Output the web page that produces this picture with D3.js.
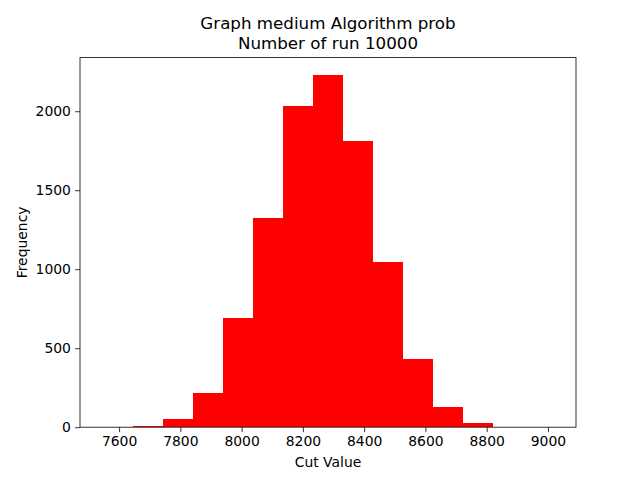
<!DOCTYPE html>
<html>
<head>
<meta charset="utf-8">
<script src="https://cdn.jsdelivr.net/npm/d3@7"></script>
<style>
  body { margin: 0; background: #fff; }
  text { font-family: "DejaVu Sans", sans-serif; fill: #000; }
</style>
</head>
<body>
<div class="histogram"></div>
<script>
'use strict';

// bin edges (cut value) and counts
const binStart = [7546, 7644, 7742, 7840, 7939, 8037, 8135, 8233, 8331, 8429, 8527, 8625, 8723, 8821, 8919];
const binEnd   = [7644, 7742, 7840, 7939, 8037, 8135, 8233, 8331, 8429, 8527, 8625, 8723, 8821, 8919, 9018];
const counts   = [1, 8, 53, 218, 689, 1322, 2033, 2228, 1811, 1044, 433, 131, 28, 0, 1];
const xTicks = [7600, 7800, 8000, 8200, 8400, 8600, 8800, 9000];
const yTicks = [0, 500, 1000, 1500, 2000];
const titleLines = ["Graph medium Algorithm prob", "Number of run 10000"];

(function() {
    const W = 640, H = 480;
    const margin = {top: 57.6, right: 64, bottom: 52.8, left: 80};
    const width = W - margin.left - margin.right,
          height = H - margin.top - margin.bottom;

    const svg = d3.select('.histogram').append('svg')
        .attr('width', W).attr('height', H);

    const g = svg.append('g')
        .attr('transform', 'translate(' + margin.left + ',' + margin.top + ')');

    // matplotlib-style 5% padding around the data
    const lo = d3.min(binStart), hi = d3.max(binEnd);
    const pad = (hi - lo) * 0.05;
    const x = d3.scaleLinear().domain([lo - pad, hi + pad]).range([0, width]);
    const y = d3.scaleLinear().domain([0, d3.max(counts) * 1.05]).range([height, 0]);

    const bins = counts.map((c, i) => ({x0: binStart[i], x1: binEnd[i], n: c}));

    // crispEdges so neighbouring bars don't show seams
    g.selectAll('rect.bar')
        .data(bins)
        .enter()
        .append('rect')
            .attr('class', 'bar')
            .attr('x', d => x(d.x0))
            .attr('y', d => y(d.n))
            .attr('width', d => x(d.x1) - x(d.x0))
            .attr('height', d => height - y(d.n))
            .attr('shape-rendering', 'crispEdges')
            .style('fill', '#ff0000');

    const xAxis = g.append('g')
        .attr('transform', 'translate(0,' + height + ')')
        .call(d3.axisBottom(x).tickValues(xTicks).tickSize(4.9).tickPadding(4.2).tickFormat(d3.format('d')));
    const yAxis = g.append('g')
        .call(d3.axisLeft(y).tickValues(yTicks).tickSize(4.9).tickPadding(4.2).tickFormat(d3.format('d')));

    [xAxis, yAxis].forEach(a => {
        a.select('.domain').remove();
        a.selectAll('line').attr('stroke', '#000').attr('stroke-width', 0.8);
        a.selectAll('text').style('font-family', '"DejaVu Sans", sans-serif').style('font-size', '13.9px').attr('fill', '#000');
    });

    // frame
    g.append('rect')
        .attr('x', 0).attr('y', 0).attr('width', width).attr('height', height)
        .attr('fill', 'none').attr('stroke', '#000').attr('stroke-width', 0.8);

    // axis labels
    svg.append('text')
        .attr('x', margin.left + width / 2).attr('y', 467)
        .style('text-anchor', 'middle').style('font-size', '13.9px')
        .text('Cut Value');

    svg.append('text')
        .attr('transform', 'translate(27,' + (margin.top + height / 2) + ') rotate(-90)')
        .style('text-anchor', 'middle').style('font-size', '13.9px')
        .text('Frequency');

    // title
    svg.selectAll('text.title')
        .data(titleLines)
        .enter()
        .append('text')
            .attr('class', 'title')
            .attr('x', margin.left + width / 2)
            .attr('y', (d, i) => 28.5 + i * 20.5)
            .style('text-anchor', 'middle').style('font-size', '16.7px')
            .text(d => d);
})();
</script>
</body>
</html>
